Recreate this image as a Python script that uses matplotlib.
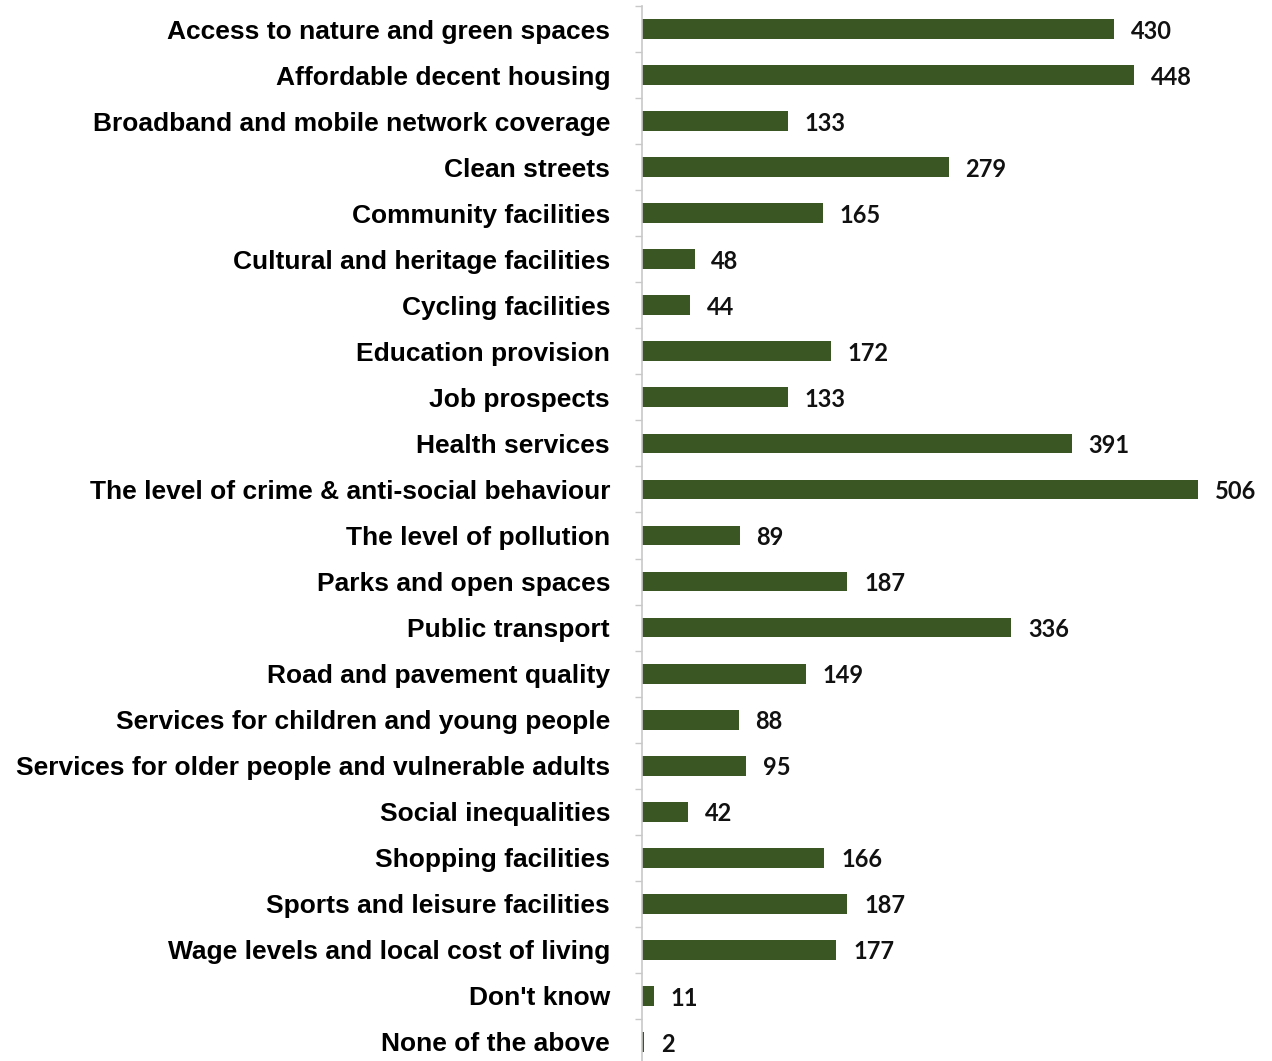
import matplotlib
matplotlib.use("Agg")
import matplotlib.pyplot as plt
import numpy as np

categories = [
    "Access to nature and green spaces",
    "Affordable decent housing",
    "Broadband and mobile network coverage",
    "Clean streets",
    "Community facilities",
    "Cultural and heritage facilities",
    "Cycling facilities",
    "Education provision",
    "Job prospects",
    "Health services",
    "The level of crime & anti-social behaviour",
    "The level of pollution",
    "Parks and open spaces",
    "Public transport",
    "Road and pavement quality",
    "Services for children and young people",
    "Services for older people and vulnerable adults",
    "Social inequalities",
    "Shopping facilities",
    "Sports and leisure facilities",
    "Wage levels and local cost of living",
    "Don't know",
    "None of the above",
]
counts = [430, 448, 133, 279, 165, 48, 44, 172, 133, 391, 506, 89, 187,
          336, 149, 88, 95, 42, 166, 187, 177, 11, 2]

bar_color = "#3a5623"

fig = plt.figure(figsize=(12.72, 10.61), dpi=100)
W, H = 1272, 1061
left_px, right_px = 642, 1272
top_px, bottom_px = 6, 1065
ax = fig.add_axes([left_px / W, (H - bottom_px) / H,
                   (right_px - left_px) / W, (bottom_px - top_px) / H])

y = np.arange(len(categories))
ax.barh(y, counts, height=0.43, color=bar_color)
ax.set_ylim(len(categories) - 0.5, -0.5)
ax.set_xlim(0, (right_px - left_px) / (556 / 506))

for yi, v in zip(y, counts):
    ax.annotate(str(v), (v, yi), xytext=(12, -1.5), textcoords="offset points",
                ha="left", va="center", fontsize=17, fontweight="bold",
                family="Lato", color="#111111")

ax.set_yticks(y)
ax.set_yticklabels(categories, fontsize=19, fontweight="bold",
                   family="Liberation Sans")
ax.tick_params(axis="y", which="major", length=0, pad=23)
ax.set_yticks(np.arange(-0.5, len(categories), 1), minor=True)
ax.tick_params(axis="y", which="minor", length=5, color="#c8c8c8", width=1)

ax.set_xticks([])
for s in ("top", "right", "bottom"):
    ax.spines[s].set_visible(False)
ax.spines["left"].set_color("#c8c8c8")
ax.spines["left"].set_linewidth(1.2)

fig.savefig("out.png", dpi=100)
